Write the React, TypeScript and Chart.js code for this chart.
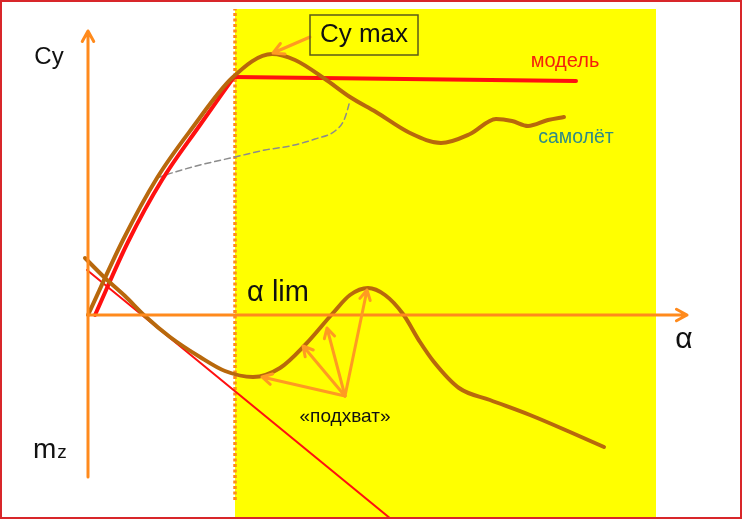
import { useEffect, useRef } from 'react';
import { Chart, registerables } from 'chart.js';

Chart.register(...registerables);

type P = [number, number];

// Axis window: α along x, Cy (up) and mz (down) along y, origin at the crossing
const alphaRange: P = [-8.8, 65.4];
const valueRange: P = [-20.4, 31.5];

// Cy(α) of the aircraft
const cyPlane: P[] = [
  [0, 0], [3.5, 7.5], [6.9, 13.7], [10.5, 18.8], [14.4, 23.7], [18.4, 26.1], [20.7, 25.5],
  [23.7, 23.6], [26.2, 21.8], [28.8, 20.3], [32.2, 18.2], [35.3, 17.2], [38.2, 18.1],
  [40.8, 19.6], [42.4, 19.4], [44.0, 18.9], [46.0, 19.5], [47.6, 19.8],
];

// Cy(α) of the model: rise, then flat after α lim
const cyModelRise: P[] = [[0.7, 0], [4.0, 7.3], [7.4, 13.5], [11.2, 19.0], [14.6, 23.8]];
const cyModelFlat: P[] = [[14.6, 23.8], [48.8, 23.4]];

// grey dashed branch
const cyDashed: P[] = [
  [6.9, 13.7], [8.7, 14.3], [11.2, 15.0], [14.7, 15.8], [17.7, 16.5], [20.2, 16.9],
  [22.7, 17.6], [24.7, 18.4], [25.6, 19.5], [26.0, 20.7], [26.2, 21.5],
];

// mz(α) of the aircraft
const mzPlane: P[] = [
  [-0.3, 5.7], [1.7, 3.7], [3.7, 1.9], [5.7, -0.1], [8.2, -2.2], [11.2, -4.2], [13.7, -5.6],
  [16.5, -6.2], [19.2, -5.3], [21.7, -3.0], [24.5, 0.2], [26.2, 2.0], [28.0, 2.7],
  [29.7, 2.0], [31.5, 0.1], [33.2, -2.7], [34.6, -4.7], [37.1, -7.3], [40.2, -8.5],
  [44.2, -10.0], [48.2, -11.7], [51.6, -13.2],
];

// mz(α) of the model (straight)
const mzModel: P[] = [[-0.1, 4.5], [30.3, -20.4]];

// stall zone and α lim line
const zoneAlpha: P = [14.7, 56.8];
const zoneValue: P = [-20.4, 30.6];
const limLine: P[] = [[14.7, -18.5], [14.7, 30.6]];

// axes
const verticalAxis: P[] = [[0, -16.2], [0, 28.4]];
const alphaAxis: P[] = [[0, 0], [59.9, 0]];

// «подхват» arrows
const grabFrom: P = [25.7, -8.1];
const grabTo: P[] = [[17.4, -6.2], [21.5, -3.1], [23.9, -1.3], [27.9, 2.5]];

// Cy max callout
const cyMaxArrow: P[] = [[22.2, 27.8], [18.5, 26.2]];
const cyMaxBox: P[] = [[22.2, 30.0], [33.0, 26.0]];

const labelText = ['Cy', 'Cy max', 'модель', 'самолёт', 'α lim', 'α', '«подхват»'];
const labelAt: P[] = [
  [-3.9, 25.8], [27.6, 28.0], [47.7, 25.4], [48.8, 17.7], [19.0, 2.2], [59.6, -2.5], [25.7, -10.2],
];
const mzAt: P = [-5.5, -14.3];

const FONT = '"Liberation Sans", Arial, sans-serif';
const ORANGE = '#ff8a1c';
const BROWN = '#b8680c';
const RED = '#ff1010';

const labelStyle: Record<string, { size: number; color: string }> = {
  'Cy': { size: 24, color: '#111' },
  'Cy max': { size: 26, color: '#111' },
  'модель': { size: 20, color: '#f4200c' },
  'самолёт': { size: 19.5, color: '#2f8a86' },
  'α lim': { size: 29, color: '#111' },
  'α': { size: 30, color: '#111' },
  '«подхват»': { size: 19, color: '#111' },
};

const toXY = (pts: P[]) => pts.map(([x, y]) => ({ x, y }));

function arrow(ctx: CanvasRenderingContext2D, x1: number, y1: number, x2: number, y2: number, head = 11) {
  const a = Math.atan2(y2 - y1, x2 - x1);
  ctx.beginPath();
  ctx.moveTo(x1, y1);
  ctx.lineTo(x2, y2);
  ctx.moveTo(x2 - head * Math.cos(a - 0.5), y2 - head * Math.sin(a - 0.5));
  ctx.lineTo(x2, y2);
  ctx.lineTo(x2 - head * Math.cos(a + 0.5), y2 - head * Math.sin(a + 0.5));
  ctx.stroke();
}

const sketchPlugin = {
  id: 'sketch',
  beforeDatasetsDraw(chart: Chart) {
    const { ctx } = chart;
    const xs = chart.scales.x;
    const ys = chart.scales.y;
    const px = (v: number) => xs.getPixelForValue(v);
    const py = (v: number) => ys.getPixelForValue(v);
    ctx.save();
    ctx.fillStyle = '#ffff00';
    const left = px(zoneAlpha[0]);
    const top = py(zoneValue[1]);
    ctx.fillRect(left, top, px(zoneAlpha[1]) - left, py(zoneValue[0]) - top);

    ctx.strokeStyle = '#ff8c1a';
    ctx.lineWidth = 3.5;
    ctx.setLineDash([3, 2.5]);
    ctx.beginPath();
    ctx.moveTo(px(limLine[0][0]), py(limLine[0][1]));
    ctx.lineTo(px(limLine[1][0]), py(limLine[1][1]));
    ctx.stroke();
    ctx.restore();
  },
  afterDatasetsDraw(chart: Chart) {
    const { ctx } = chart;
    const xs = chart.scales.x;
    const ys = chart.scales.y;
    const px = (v: number) => xs.getPixelForValue(v);
    const py = (v: number) => ys.getPixelForValue(v);
    ctx.save();
    ctx.lineCap = 'round';
    ctx.lineJoin = 'round';

    // axes
    ctx.strokeStyle = ORANGE;
    ctx.lineWidth = 3;
    arrow(ctx, px(verticalAxis[0][0]), py(verticalAxis[0][1]), px(verticalAxis[1][0]), py(verticalAxis[1][1]), 12);
    arrow(ctx, px(alphaAxis[0][0]), py(alphaAxis[0][1]), px(alphaAxis[1][0]), py(alphaAxis[1][1]), 12);

    // «подхват» arrows
    ctx.strokeStyle = '#ff9a22';
    ctx.lineWidth = 3;
    grabTo.forEach(([x, y]) => arrow(ctx, px(grabFrom[0]), py(grabFrom[1]), px(x), py(y), 11));

    // Cy max callout
    arrow(ctx, px(cyMaxArrow[0][0]), py(cyMaxArrow[0][1]), px(cyMaxArrow[1][0]), py(cyMaxArrow[1][1]), 12);
    ctx.strokeStyle = '#5a5a1a';
    ctx.lineWidth = 1.5;
    ctx.lineJoin = 'miter';
    const bx = px(cyMaxBox[0][0]);
    const by = py(cyMaxBox[0][1]);
    ctx.strokeRect(bx, by, px(cyMaxBox[1][0]) - bx, py(cyMaxBox[1][1]) - by);

    // labels
    ctx.textAlign = 'center';
    ctx.textBaseline = 'middle';
    labelText.forEach((t, i) => {
      const s = labelStyle[t];
      ctx.font = `${s.size}px ${FONT}`;
      ctx.fillStyle = s.color;
      ctx.fillText(t, px(labelAt[i][0]), py(labelAt[i][1]));
    });

    // mz with small z
    ctx.textAlign = 'left';
    ctx.textBaseline = 'alphabetic';
    ctx.fillStyle = '#111';
    ctx.font = `28px ${FONT}`;
    const mx = px(mzAt[0]);
    const my = py(mzAt[1]);
    ctx.fillText('m', mx, my);
    const mw = ctx.measureText('m').width;
    ctx.font = `19px ${FONT}`;
    ctx.fillText('z', mx + mw + 1, my);
    ctx.restore();
  },
};

export default function App() {
  const canvasRef = useRef<HTMLCanvasElement>(null);

  useEffect(() => {
    if (!canvasRef.current) return;
    const line = (data: P[], color: string, width: number, smooth = true, dash: number[] = []) => ({
      data: toXY(data),
      borderColor: color,
      borderWidth: width,
      borderDash: dash,
      tension: smooth ? 0.4 : 0,
      cubicInterpolationMode: smooth ? ('monotone' as const) : ('default' as const),
      showLine: true,
      pointRadius: 0,
      fill: false,
      borderCapStyle: 'round' as const,
      borderJoinStyle: 'round' as const,
    });

    const chart = new Chart(canvasRef.current, {
      type: 'scatter',
      data: {
        datasets: [
          line(cyPlane, BROWN, 4),
          line(mzPlane, BROWN, 4),
          line(cyModelRise, RED, 4),
          line(cyModelFlat, RED, 4, false),
          line(mzModel, RED, 2, false),
          line(cyDashed, '#8c8c8c', 1.5, true, [6, 4]),
        ],
      },
      options: {
        responsive: true,
        maintainAspectRatio: false,
        animation: false,
        events: [],
        layout: { padding: 0 },
        plugins: { legend: { display: false }, tooltip: { enabled: false } },
        scales: {
          x: { type: 'linear', min: alphaRange[0], max: alphaRange[1], display: false },
          y: { type: 'linear', min: valueRange[0], max: valueRange[1], display: false },
        },
      },
      plugins: [sketchPlugin],
    });

    return () => chart.destroy();
  }, []);

  return (
    <div style={{ position: 'fixed', left: 0, top: 0, width: 742, height: 519, background: '#fff' }}>
      <canvas ref={canvasRef}></canvas>
      <div
        style={{
          position: 'absolute',
          inset: 0,
          border: '2px solid #d8262a',
          pointerEvents: 'none',
        }}
      />
    </div>
  );
}
